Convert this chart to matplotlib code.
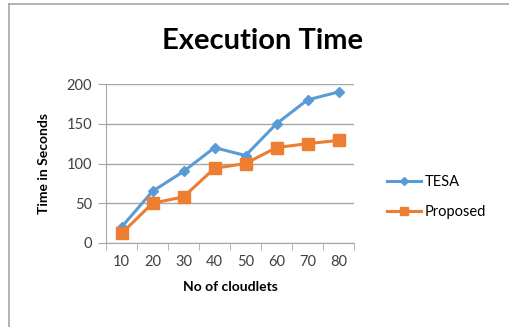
import matplotlib.pyplot as plt
from matplotlib.lines import Line2D

cloudlets = [10, 20, 30, 40, 50, 60, 70, 80]
tesa = [20, 65, 90, 120, 110, 150, 180, 190]
proposed = [12, 50, 58, 94, 100, 120, 125, 129]

plt.rcParams['font.family'] = ['Lato', 'DejaVu Sans']

fig = plt.figure(figsize=(5.09, 3.27), dpi=100)
ax = fig.add_axes([106/509, 1 - 243/327, 248/509, 159/327])

pos = range(len(cloudlets))
ax.plot(pos, tesa, color='#5B9BD5', lw=2.2, marker='D', ms=5.5, label='TESA')
ax.plot(pos, proposed, color='#ED7D31', lw=2.2, marker='s', ms=8, label='Proposed')

ax.set_xlim(-0.5, len(cloudlets) - 0.5)
ax.set_ylim(0, 200)
ax.set_yticks([0, 50, 100, 150, 200])
ax.set_xticks(list(pos))
ax.set_xticklabels([str(c) for c in cloudlets])
ax.set_xticks([p - 0.5 for p in range(len(cloudlets) + 1)], minor=True)
ax.tick_params(axis='x', which='major', length=0, pad=9, labelsize=10.5, colors='#404040')
ax.tick_params(axis='x', which='minor', length=5, color='#A6A6A6')
ax.tick_params(axis='y', length=6, color='#A6A6A6', labelsize=10.5, colors='#404040', pad=4)

ax.grid(axis='y', color='#A6A6A6', lw=1)
ax.set_axisbelow(True)
for s in ['top', 'right']:
    ax.spines[s].set_visible(False)
ax.spines['left'].set_color('#A6A6A6')
ax.spines['bottom'].set_color('#A6A6A6')

ax.set_xlabel('No of cloudlets', fontsize=10, fontweight='bold', labelpad=8)
ax.set_ylabel('Time in Seconds', fontsize=10, fontweight='bold', labelpad=12)

fig.text(262/509, 1 - 41/327, 'Execution Time', ha='center', va='center',
         fontsize=21, fontweight='bold')

fig.legend(loc='center left', bbox_to_anchor=(374/509, 1 - 197/327), frameon=False,
           fontsize=10.5, handlelength=2.3, labelspacing=1.1, handletextpad=0.3,
           markerscale=0.8)

# outer frame (left and top edges only)
fig.add_artist(Line2D([9/509, 9/509], [0, 1 - 4/327], color='#A6A6A6', lw=1.2))
fig.add_artist(Line2D([9/509, 1], [1 - 4/327, 1 - 4/327], color='#A6A6A6', lw=1.2))

fig.savefig('out.png', dpi=100)
